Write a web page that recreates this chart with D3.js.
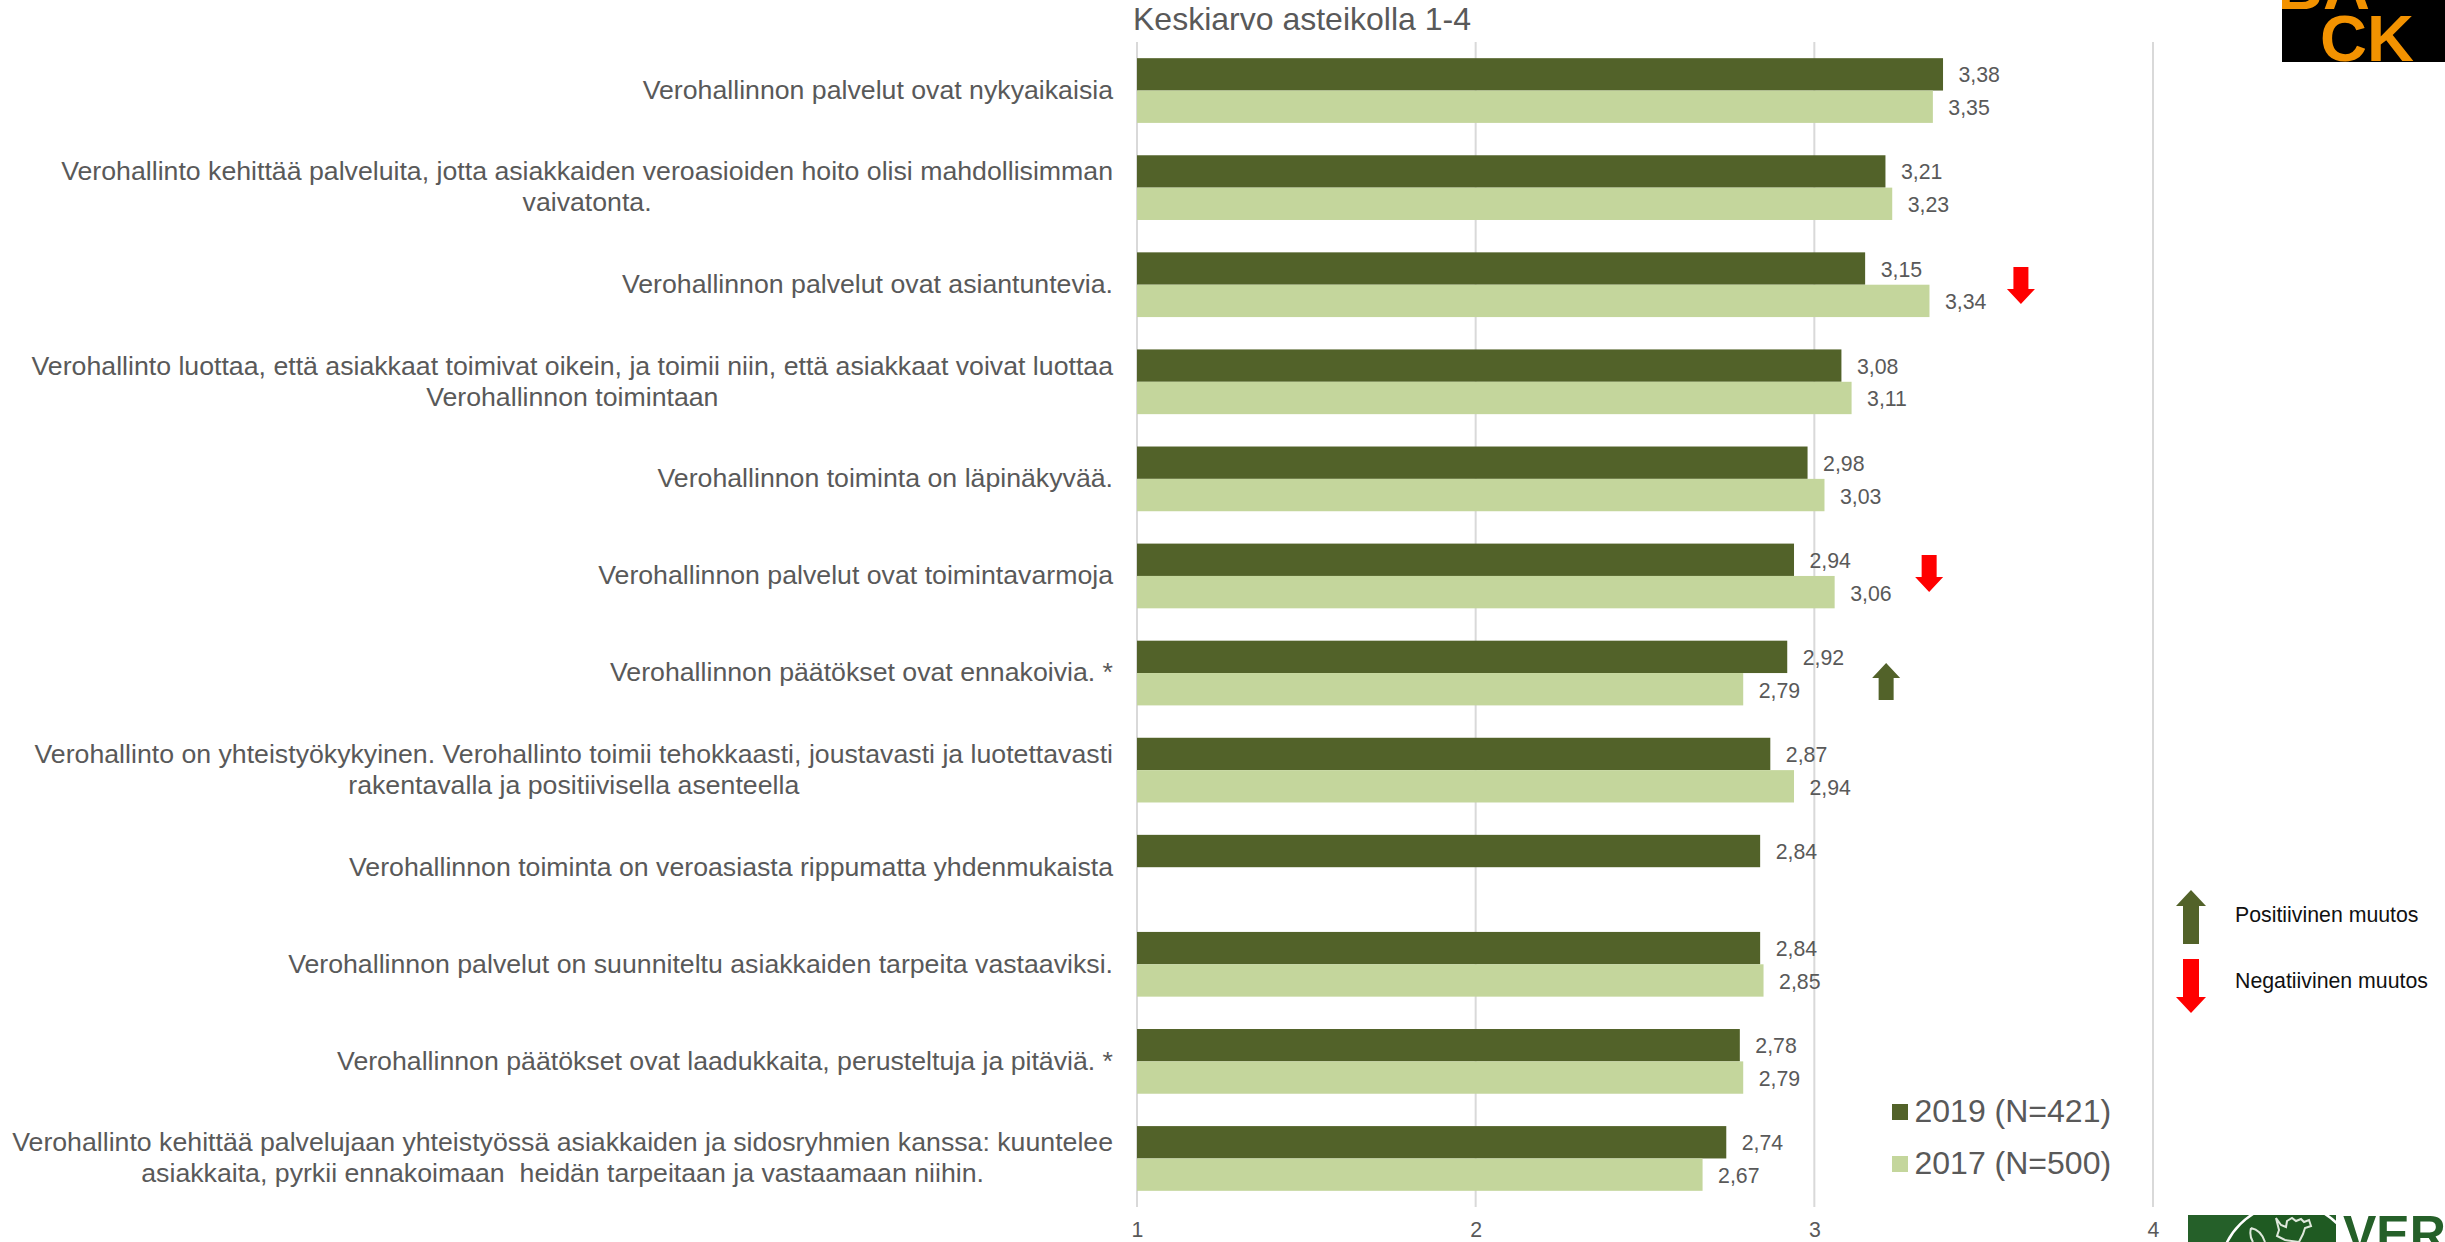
<!DOCTYPE html>
<html><head><meta charset="utf-8">
<script src="https://cdn.jsdelivr.net/npm/d3@7/dist/d3.min.js"></script>
<style>html,body{margin:0;padding:0;background:#fff;overflow:hidden}text{font-family:"Liberation Sans",Arial,sans-serif}</style>
</head><body><svg id="c" width="2445" height="1242"></svg>
<script>
const categories=[
["Verohallinnon palvelut ovat nykyaikaisia"],
["Verohallinto kehittää palveluita, jotta asiakkaiden veroasioiden hoito olisi mahdollisimman","vaivatonta."],
["Verohallinnon palvelut ovat asiantuntevia."],
["Verohallinto luottaa, että asiakkaat toimivat oikein, ja toimii niin, että asiakkaat voivat luottaa","Verohallinnon toimintaan"],
["Verohallinnon toiminta on läpinäkyvää."],
["Verohallinnon palvelut ovat toimintavarmoja"],
["Verohallinnon päätökset ovat ennakoivia. *"],
["Verohallinto on yhteistyökykyinen. Verohallinto toimii tehokkaasti, joustavasti ja luotettavasti","rakentavalla ja positiivisella asenteella"],
["Verohallinnon toiminta on veroasiasta rippumatta yhdenmukaista"],
["Verohallinnon palvelut on suunniteltu asiakkaiden tarpeita vastaaviksi."],
["Verohallinnon päätökset ovat laadukkaita, perusteltuja ja pitäviä. *"],
["Verohallinto kehittää palvelujaan yhteistyössä asiakkaiden ja sidosryhmien kanssa: kuuntelee","asiakkaita, pyrkii ennakoimaan  heidän tarpeitaan ja vastaamaan niihin."]];
const values2019=[3.38,3.21,3.15,3.08,2.98,2.94,2.92,2.87,2.84,2.84,2.78,2.74];
const values2017=[3.35,3.23,3.34,3.11,3.03,3.06,2.79,2.94,null,2.85,2.79,2.67];
const seriesNames=["2019 (N=421)","2017 (N=500)"];
const seriesColors=["#526229","#c4d69c"];
const ticks=[1,2,3,4];
const title="Keskiarvo asteikolla 1-4";
const changes=[[3.61,"down",267],[3.339,"down",555],[3.212,"up",663]];
const svg=d3.select("#c");
const x=d3.scaleLinear().domain([1,4]).range([1137,2153]);
const y=d3.scaleBand().domain(d3.range(12)).range([42,1207]);
const sub=d3.scaleBand().domain([0,1]).range([y.bandwidth()/6,y.bandwidth()*5/6]);
const fmt=v=>v.toFixed(2).replace(".",",");
const grey="#595959";
svg.append("g").selectAll("line").data(ticks).join("line")
 .attr("x1",d=>x(d)).attr("x2",d=>x(d)).attr("y1",42).attr("y2",1207)
 .attr("stroke","#d9d9d9").attr("stroke-width",2);
const axis=d3.axisBottom(x).tickValues(ticks).tickSize(0).tickPadding(0).tickFormat(d3.format("d"));
const ga=svg.append("g").attr("transform","translate(0,1222)").call(axis);
ga.select(".domain").remove();
ga.selectAll("text").attr("font-size",21.3).attr("fill",grey).attr("font-family","Liberation Sans");
[values2019,values2017].forEach((vals,s)=>{
 const g=svg.append("g");
 const data=vals.map((v,i)=>({v,i})).filter(d=>d.v!=null);
 g.selectAll("rect").data(data).join("rect")
  .attr("x",x(1)).attr("y",d=>y(d.i)+sub(s)).attr("width",d=>x(d.v)-x(1)).attr("height",sub.bandwidth())
  .attr("fill",seriesColors[s]);
 g.selectAll("text").data(data).join("text")
  .attr("x",d=>x(d.v)+15.5).attr("y",d=>y(d.i)+sub(s)+sub.bandwidth()/2+8+s*0.5)
  .attr("font-size",21.3).attr("fill",grey).text(d=>fmt(d.v));
});
const lab=svg.append("g");
categories.forEach((lines,i)=>{
 const cy=y(i)+y.bandwidth()/2;
 lines.forEach((t,j)=>{
  lab.append("text").attr("class","c"+i).style("white-space","pre")
   .attr("y",cy+8.3-(lines.length-1)*15.5+j*31).attr("font-size",26.7).attr("fill",grey).text(t);
 });
 const nodes=lab.selectAll(".c"+i).nodes();
 const w=Math.max(...nodes.map(n=>n.getComputedTextLength()));
 nodes.forEach(n=>d3.select(n).attr("x",1113-w/2).attr("text-anchor","middle"));
});
svg.append("text").attr("x",1133).attr("y",30).attr("font-size",32).attr("fill",grey).text(title);
const arrow=(cx,top,dir,col,hw,sw,len,head)=>{
 const pts=dir==="up"?[[cx,top],[cx+hw,top+head],[cx+sw,top+head],[cx+sw,top+len],[cx-sw,top+len],[cx-sw,top+head],[cx-hw,top+head]]
 :[[cx,top+len],[cx+hw,top+len-head],[cx+sw,top+len-head],[cx+sw,top],[cx-sw,top],[cx-sw,top+len-head],[cx-hw,top+len-head]];
 svg.append("polygon").attr("points",pts.join(" ")).attr("fill",col);
};
changes.forEach(([v,dir,top])=>arrow(x(v),top,dir,dir==="up"?"#526229":"#ff0000",14,7.5,37,15));
arrow(2191,890,"up","#526229",15,8,54,16);
arrow(2191,959,"down","#ff0000",15,8,54,16);
svg.append("text").attr("x",2235).attr("y",922).attr("font-size",21.3).attr("fill","#111").text("Positiivinen muutos");
svg.append("text").attr("x",2235).attr("y",988).attr("font-size",21.3).attr("fill","#111").text("Negatiivinen muutos");
seriesNames.forEach((n,s)=>{
 const ly=[1112,1164][s];
 svg.append("rect").attr("x",1892).attr("y",ly-8).attr("width",16).attr("height",16).attr("fill",seriesColors[s]);
 svg.append("text").attr("x",1914.5).attr("y",ly+10).attr("font-size",32).attr("fill",grey).text(n);
});
// BACK badge
const defs=svg.append("defs");
defs.append("clipPath").attr("id","bk").append("rect").attr("x",2282).attr("y",0).attr("width",163).attr("height",62);
defs.append("clipPath").attr("id","cr").append("rect").attr("x",2188).attr("y",1215).attr("width",148).attr("height",27);
svg.append("rect").attr("x",2282).attr("y",0).attr("width",163).attr("height",62).attr("fill","#000");
const bk=svg.append("g").attr("clip-path","url(#bk)").attr("fill","#f39200").attr("font-weight","bold").attr("font-size",65);
bk.append("text").attr("x",2276).attr("y",9).text("BA");
bk.append("text").attr("x",2320).attr("y",61).text("CK");
// Vero logo
const logo=svg.append("g").attr("clip-path","url(#cr)");
logo.append("rect").attr("x",2188).attr("y",1215).attr("width",148).attr("height",27).attr("fill","#256029");
logo.append("circle").attr("cx",2289).attr("cy",1273).attr("r",69).attr("fill","#1f5a22").attr("stroke","#fff").attr("stroke-width",2.5);
logo.append("path").attr("d","M2276,1218 l3,12 l-2,6 l8,4 l14,2 l4,-8 l2,-6 l6,-2 l-2,-6 l-5,2 l-3,-3 l-5,2 l-4,-3 l-5,3 l-1,6 l-5,-2 Z M2251,1228 q10,2 14,14 M2251,1228 q-2,8 2,14")
 .attr("fill","none").attr("stroke","#dfe8dc").attr("stroke-width",2);
svg.append("text").attr("x",2343).attr("y",1251).attr("font-size",50).attr("font-weight","bold").attr("fill","#256029").text("VERO");
</script></body></html>
